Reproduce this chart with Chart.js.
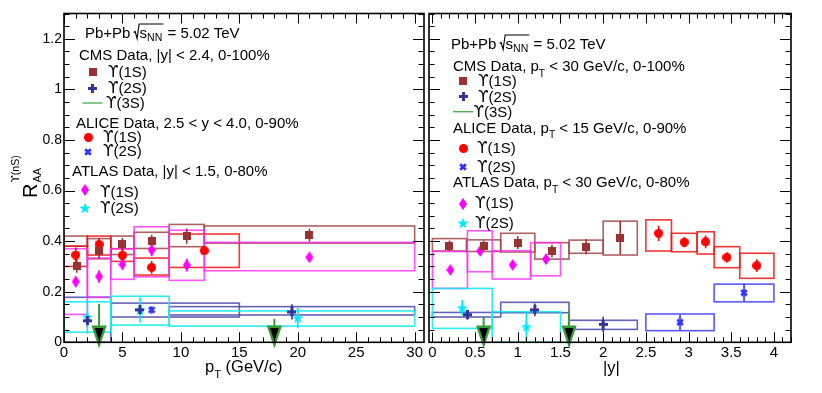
<!DOCTYPE html>
<html>
<head>
<meta charset="utf-8">
<script src="https://cdn.jsdelivr.net/npm/chart.js@4.4.0/dist/chart.umd.min.js"></script>
<style>
  body { margin: 0; background: #fff; width: 822px; height: 393px; overflow: hidden; position: relative; }
  .panel { position: absolute; top: 0; height: 393px; }
</style>
</head>
<body>
<div class="panel" style="left:0;width:430px"><canvas id="ptChart"></canvas></div>
<div class="panel" style="left:400px;width:422px"><canvas id="yChart"></canvas></div>
<script>
// ---- pT panel ----
const ptCms1sX = [1.1, 3, 5, 7.5, 10.5, 21];
const ptCms1sY = [0.30, 0.36, 0.387, 0.40, 0.42, 0.424];
const ptCms1sStat = [0.025, 0.03, 0.025, 0.025, 0.03, 0.025];
const ptCms1sBins = [[0, 2], [2, 4], [4, 6], [6, 9], [9, 12], [12, 30]];
const ptCms1sSys = [[0.38, 0.42], [0.33, 0.41], [0.347, 0.42], [0.371, 0.435], [0.378, 0.466], [0.392, 0.46]];

const ptCms2sX = [2, 6.5, 19.5];
const ptCms2sY = [0.085, 0.128, 0.12];
const ptCms2sStat = [0.025, 0.02, 0.03];
const ptCms2sBins = [[0, 4], [4, 15], [9, 30]];
const ptCms2sSys = [[0.0, 0.178], [0.10, 0.155], [0.108, 0.141]];

const ptAlice1sX = [1, 3, 5, 7.5, 12];
const ptAlice1sY = [0.345, 0.387, 0.344, 0.296, 0.362];
const ptAlice1sStat = [0.03, 0.025, 0.025, 0.025, 0.012];
const ptAlice1sBins = [[0, 2], [2, 4], [4, 6], [6, 9], [9, 15]];
const ptAlice1sSys = [[0.30, 0.38], [0.345, 0.42], [0.32, 0.37], [0.266, 0.333], [0.296, 0.428]];

const ptAlice2sX = [7.5];
const ptAlice2sY = [0.128];
const ptAlice2sStat = [0.015];

const ptAtlas1sX = [1, 3, 5, 7.5, 10.5, 21];
const ptAtlas1sY = [0.24, 0.26, 0.308, 0.365, 0.305, 0.336];
const ptAtlas1sStat = [0.02, 0.025, 0.02, 0.025, 0.025, 0.015];
const ptAtlas1sBins = [[0, 2], [2, 4], [4, 6], [6, 9], [9, 12], [12, 30]];
const ptAtlas1sSys = [[0.11, 0.37], [0.178, 0.333], [0.249, 0.37], [0.259, 0.457], [0.245, 0.443], [0.283, 0.395]];

const ptAtlas2sX = [2, 6.5, 20];
const ptAtlas2sY = [0.10, 0.128, 0.097];
const ptAtlas2sStat = [0.065, 0.05, 0.04];
const ptAtlas2sBins = [[0, 4], [4, 9], [9, 30]];
const ptAtlas2sSys = [[0.04, 0.16], [0.068, 0.182], [0.064, 0.124]];

const ptCms3sLimitX = [3, 18];
const ptCms3sLimitY = [0.152, 0.093];

// ---- |y| panel ----
const yCms1sX = [0.2, 0.6, 1.0, 1.4, 1.8, 2.2];
const yCms1sY = [0.382, 0.382, 0.394, 0.361, 0.378, 0.414];
const yCms1sStat = [0.02, 0.02, 0.025, 0.025, 0.03, 0.067];
const yCms1sBins = [[0, 0.4], [0.4, 0.8], [0.8, 1.2], [1.2, 1.6], [1.6, 2.0], [2.0, 2.4]];
const yCms1sSys = [[0.361, 0.41], [0.359, 0.405], [0.357, 0.431], [0.329, 0.394], [0.352, 0.404], [0.345, 0.479]];

const yCms2sX = [0.41, 1.2, 2.0];
const yCms2sY = [0.109, 0.128, 0.071];
const yCms2sStat = [0.02, 0.025, 0.03];
const yCms2sBins = [[0, 0.8], [0.8, 1.6], [1.6, 2.4]];
const yCms2sSys = [[0.10, 0.118], [0.117, 0.158], [0.051, 0.087]];

const yAlice1sX = [2.65, 2.95, 3.2, 3.45, 3.8];
const yAlice1sY = [0.431, 0.396, 0.397, 0.336, 0.303];
const yAlice1sStat = [0.03, 0.02, 0.025, 0.02, 0.025];
const yAlice1sBins = [[2.5, 2.8], [2.8, 3.1], [3.1, 3.3], [3.3, 3.6], [3.6, 4.0]];
const yAlice1sSys = [[0.361, 0.484], [0.358, 0.431], [0.349, 0.437], [0.295, 0.378], [0.253, 0.352]];

const yAlice2sX = [2.9, 3.65];
const yAlice2sY = [0.079, 0.196];
const yAlice2sStat = [0.03, 0.035];
const yAlice2sBins = [[2.5, 3.3], [3.3, 4.0]];
const yAlice2sSys = [[0.046, 0.112], [0.16, 0.23]];

const yAtlas1sX = [0.21, 0.56, 0.94, 1.33];
const yAtlas1sY = [0.286, 0.361, 0.306, 0.329];
const yAtlas1sStat = [0.015, 0.015, 0.015, 0.015];
const yAtlas1sBins = [[0, 0.41], [0.41, 0.7], [0.7, 1.15], [1.15, 1.5]];
const yAtlas1sSys = [[0.213, 0.359], [0.279, 0.441], [0.25, 0.362], [0.263, 0.394]];

const yAtlas2sX = [0.35, 1.1];
const yAtlas2sY = [0.137, 0.062];
const yAtlas2sStat = [0.03, 0.06];
const yAtlas2sBins = [[0, 0.7], [0.7, 1.5]];
const yAtlas2sSys = [[0.055, 0.213], [0.0, 0.121]];

const yCms3sLimitX = [0.6, 1.6];
const yCms3sLimitY = [0.10, 0.125];

const SANS = "'Liberation Sans', 'DejaVu Sans', Arial, sans-serif";
const UPSFONT = "'DejaVu Sans', sans-serif";
const GREEN = '#3a9a3a';
const UPS = '\u03D2';

function makeMarker(shape, color, w, h) {
  const c = document.createElement('canvas');
  c.width = w; c.height = h;
  const g = c.getContext('2d');
  g.fillStyle = color; g.strokeStyle = color;
  if (shape === 'square') {
    g.fillRect(0, 0, w, h);
  } else if (shape === 'circle') {
    g.beginPath(); g.arc(w / 2, h / 2, w / 2, 0, Math.PI * 2); g.fill();
  } else if (shape === 'plus') {
    g.fillRect(0, 3, w, 3); g.fillRect(3, 0, 3, h);
  } else if (shape === 'xcross') {
    g.lineWidth = 2.8;
    g.beginPath();
    g.moveTo(1.2, 1.2); g.lineTo(w - 1.2, h - 1.2);
    g.moveTo(w - 1.2, 1.2); g.lineTo(1.2, h - 1.2);
    g.stroke();
  } else if (shape === 'diamond') {
    g.beginPath();
    g.moveTo(w / 2, 0); g.lineTo(w, h / 2); g.lineTo(w / 2, h); g.lineTo(0, h / 2);
    g.closePath(); g.fill();
  } else if (shape === 'star') {
    g.beginPath();
    for (let i = 0; i < 10; i++) {
      const r = i % 2 ? w * 0.2 : w / 2;
      const a = -Math.PI / 2 + i * Math.PI / 5;
      g.lineTo(w / 2 + r * Math.cos(a), h / 2 + 0.5 + r * Math.sin(a));
    }
    g.closePath(); g.fill();
  }
  return c;
}

const MK = {
  cms1s: makeMarker('square', '#993333', 8, 8),
  cms2s: makeMarker('plus', '#333399', 9, 9),
  alice1s: makeMarker('circle', '#ff0000', 9, 9),
  alice2s: makeMarker('xcross', '#3333ff', 8, 8),
  atlas1s: makeMarker('diamond', '#ff00ff', 8, 12),
  atlas2s: makeMarker('star', '#00e8ff', 12, 12)
};

function series(x, y, stat, bins, sys, marker, color, boxColor) {
  return {
    data: x.map((v, i) => ({ x: v, y: y[i] })),
    stat: stat, bins: bins, sys: sys, barColor: color, boxColor: boxColor,
    pointStyle: marker, pointRadius: 5, showLine: false
  };
}

// rich text: supports _{sub}
function rich(ctx, str, x, y, size) {
  const parts = str.split(/(_\{[^}]*\})/);
  parts.forEach(p => {
    if (!p) return;
    if (p.startsWith('_{')) {
      const t = p.slice(2, -1);
      ctx.font = (size * 0.68) + 'px ' + SANS;
      ctx.fillText(t, x, y + size * 0.38);
      x += ctx.measureText(t).width;
    } else {
      ctx.font = size + 'px ' + SANS;
      ctx.fillText(p, x, y);
      x += ctx.measureText(p).width;
    }
  });
  return x;
}

// upsilon glyph followed by plain text
function ups(ctx, rest, x, y, size) {
  ctx.font = size + 'px ' + UPSFONT;
  ctx.fillText(UPS, x, y);
  x += ctx.measureText(UPS).width;
  ctx.font = size + 'px ' + SANS;
  ctx.fillText(rest, x, y);
}

function header(ctx, x, y) {
  ctx.fillStyle = '#000';
  ctx.font = '15px ' + SANS;
  ctx.fillText('Pb+Pb ', x, y);
  x += ctx.measureText('Pb+Pb ').width - 1;
  ctx.strokeStyle = '#000'; ctx.lineWidth = 1.1;
  const x0 = x;
  const sx = x0 + 6;
  ctx.fillText('s', sx, y);
  let ex = sx + ctx.measureText('s').width;
  ctx.font = '10.5px ' + SANS;
  ctx.fillText('NN', ex, y + 3);
  ex += ctx.measureText('NN').width + 1;
  ctx.beginPath();
  ctx.moveTo(x0, y - 5); ctx.lineTo(x0 + 1.5, y - 6);
  ctx.lineTo(x0 + 3.5, y + 1); ctx.lineTo(x0 + 5.5, y - 13.5); ctx.lineTo(ex, y - 13.5);
  ctx.stroke();
  ctx.font = '15px ' + SANS;
  ctx.fillText(' = 5.02 TeV', ex, y);
}

function entry(ctx, mk, mx, my, label, tx, ty) {
  if (mk === 'line') {
    ctx.strokeStyle = '#44aa44'; ctx.lineWidth = 1.3;
    ctx.beginPath(); ctx.moveTo(mx - 10, my); ctx.lineTo(mx + 10, my); ctx.stroke();
  } else {
    ctx.drawImage(mk, Math.round(mx - mk.width / 2), Math.round(my - mk.height / 2));
  }
  ctx.fillStyle = '#000';
  ups(ctx, label, tx, ty, 15);
}

function drawTicks(ctx, a, xs, ys, xMinor, xPer, yMinor, yPer) {
  ctx.strokeStyle = '#000'; ctx.lineWidth = 1;
  ctx.beginPath();
  const kx0 = Math.ceil(xs.min / xMinor - 1e-9), kx1 = Math.floor(xs.max / xMinor + 1e-9);
  for (let k = kx0; k <= kx1; k++) {
    const px = Math.round(xs.getPixelForValue(k * xMinor)) + 0.5;
    const len = k % xPer === 0 ? 10 : 5;
    ctx.moveTo(px, a.bottom); ctx.lineTo(px, a.bottom - len);
    ctx.moveTo(px, a.top); ctx.lineTo(px, a.top + len);
  }
  const ky0 = Math.ceil(ys.min / yMinor - 1e-9), ky1 = Math.floor(ys.max / yMinor + 1e-9);
  for (let k = ky0; k <= ky1; k++) {
    const py = Math.round(ys.getPixelForValue(k * yMinor)) + 0.5;
    const len = k % yPer === 0 ? 11 : 5.5;
    ctx.moveTo(a.left, py); ctx.lineTo(a.left + len, py);
    ctx.moveTo(a.right, py); ctx.lineTo(a.right - len, py);
  }
  ctx.stroke();
  ctx.lineWidth = 1.6;
  ctx.strokeRect(a.left, a.top, a.right - a.left, a.bottom - a.top);
}

const rootPlot = {
  id: 'rootPlot',
  beforeDatasetsDraw(chart) {
    const { ctx, chartArea: a, scales: { x, y } } = chart;
    ctx.save();
    ctx.beginPath(); ctx.rect(a.left, a.top, a.right - a.left, a.bottom - a.top); ctx.clip();
    chart.data.datasets.forEach(ds => {
      if (!ds.bins) return;
      ctx.strokeStyle = ds.boxColor; ctx.lineWidth = 1.6;
      ds.bins.forEach((b, i) => {
        const x0 = x.getPixelForValue(b[0]), x1 = x.getPixelForValue(b[1]);
        const y0 = y.getPixelForValue(ds.sys[i][1]), y1 = y.getPixelForValue(ds.sys[i][0]);
        ctx.strokeRect(x0, y0, x1 - x0, y1 - y0);
      });
    });
    chart.data.datasets.forEach(ds => {
      ctx.strokeStyle = ds.barColor; ctx.lineWidth = 1.6;
      ds.data.forEach((p, i) => {
        const px = x.getPixelForValue(p.x);
        ctx.beginPath();
        ctx.moveTo(px, y.getPixelForValue(p.y + ds.stat[i]));
        ctx.lineTo(px, y.getPixelForValue(p.y - ds.stat[i]));
        ctx.stroke();
      });
    });
    ctx.restore();
  },
  afterDatasetsDraw(chart, args, opts) {
    const { ctx, chartArea: a, scales: { x, y } } = chart;
    ctx.save();
    opts.limitX.forEach((lx, i) => {
      const px = x.getPixelForValue(lx);
      const top = y.getPixelForValue(opts.limitY[i]);
      const tip = a.bottom + 2.5, head = tip - 18;
      ctx.strokeStyle = GREEN; ctx.lineWidth = 2;
      ctx.beginPath(); ctx.moveTo(px, top); ctx.lineTo(px, head); ctx.stroke();
      ctx.beginPath();
      ctx.moveTo(px - 6, head); ctx.lineTo(px + 6, head); ctx.lineTo(px, tip); ctx.closePath();
      ctx.fillStyle = '#000'; ctx.fill();
      ctx.lineWidth = 2.4; ctx.lineJoin = 'miter'; ctx.stroke();
    });
    ctx.restore();
  },
  afterDraw(chart, args, opts) {
    const { ctx, chartArea: a, scales: { x, y } } = chart;
    ctx.save();
    drawTicks(ctx, a, x, y, opts.xMinor, opts.xPer, 0.05, 4);
    opts.decorate(ctx);
    ctx.restore();
  }
};

function panel(id, datasets, xOpts, yWidth, yLabels, padding, plotOpts) {
  return new Chart(document.getElementById(id), {
    type: 'scatter',
    data: { datasets: datasets },
    plugins: [rootPlot],
    options: {
      responsive: true, maintainAspectRatio: false, animation: false, events: [],
      layout: { padding: padding },
      plugins: { legend: { display: false }, tooltip: { enabled: false }, rootPlot: plotOpts },
      scales: {
        x: {
          type: 'linear', min: xOpts.min, max: xOpts.max,
          grid: { display: false, drawTicks: false }, border: { display: false },
          ticks: { stepSize: xOpts.step, includeBounds: false, color: '#000', padding: 2,
            maxRotation: 0, autoSkip: false, font: { family: SANS, size: 15 },
            callback: v => String(+v.toFixed(2)) },
          afterFit: s => { s.height = 50.7; }
        },
        y: {
          type: 'linear', min: 0, max: 1.3,
          grid: { display: false, drawTicks: false }, border: { display: false },
          ticks: { display: yLabels, stepSize: 0.2, includeBounds: false, color: '#000', padding: 2,
            font: { family: SANS, size: 14 }, callback: v => String(+v.toFixed(2)) },
          afterFit: s => { s.width = yWidth; }
        }
      }
    }
  });
}

panel('ptChart', [
  series(ptCms1sX, ptCms1sY, ptCms1sStat, ptCms1sBins, ptCms1sSys, MK.cms1s, '#993333', 'rgba(160,70,70,0.85)'),
  series(ptCms2sX, ptCms2sY, ptCms2sStat, ptCms2sBins, ptCms2sSys, MK.cms2s, '#333399', 'rgba(70,70,170,0.85)'),
  series(ptAlice1sX, ptAlice1sY, ptAlice1sStat, ptAlice1sBins, ptAlice1sSys, MK.alice1s, '#ff0000', 'rgba(240,20,20,0.85)'),
  series(ptAlice2sX, ptAlice2sY, ptAlice2sStat, null, null, MK.alice2s, '#3333ff', 'rgba(60,60,255,0.85)'),
  series(ptAtlas1sX, ptAtlas1sY, ptAtlas1sStat, ptAtlas1sBins, ptAtlas1sSys, MK.atlas1s, '#ff00ff', 'rgba(255,40,255,0.8)'),
  series(ptAtlas2sX, ptAtlas2sY, ptAtlas2sStat, ptAtlas2sBins, ptAtlas2sSys, MK.atlas2s, '#00e8ff', 'rgba(20,235,240,0.9)')
], { min: 0, max: 30.8, step: 5 }, 64, true, { left: 0, right: 2, top: 13.5, bottom: 0 }, {
  limitX: ptCms3sLimitX, limitY: ptCms3sLimitY, xMinor: 1, xPer: 5,
  decorate(ctx) {
    header(ctx, 85, 37.5);
    ctx.fillStyle = '#000';
    rich(ctx, 'CMS Data, |y| < 2.4, 0-100%', 79, 60, 15);
    entry(ctx, MK.cms1s, 92.5, 71.5, '(1S)', 108, 76.5);
    entry(ctx, MK.cms2s, 92.5, 88, '(2S)', 108, 92.5);
    entry(ctx, 'line', 92.5, 103, '(3S)', 106, 108);
    rich(ctx, 'ALICE Data, 2.5 < y < 4.0, 0-90%', 76, 127.5, 15);
    entry(ctx, MK.alice1s, 88, 137, '(1S)', 103, 141.5);
    entry(ctx, MK.alice2s, 88, 151.5, '(2S)', 103, 155.5);
    rich(ctx, 'ATLAS Data, |y| < 1.5, 0-80%', 72, 176, 15);
    entry(ctx, MK.atlas1s, 85, 190, '(1S)', 100, 196.5);
    entry(ctx, MK.atlas2s, 85, 208, '(2S)', 100, 212.5);
    // axis titles
    rich(ctx, 'p_{T} (GeV/c)', 205, 372, 16.5);
    ctx.save();
    ctx.translate(37, 198); ctx.rotate(-Math.PI / 2);
    ctx.font = '20px ' + SANS; ctx.fillText('R', 0, 0);
    ctx.font = '11px ' + SANS; ctx.fillText('AA', 15.5, 3.5);
    ups(ctx, '(nS)', 15.5, -18, 10.5);
    ctx.restore();
  }
});

const OFF = 400;
panel('yChart', [
  series(yCms1sX, yCms1sY, yCms1sStat, yCms1sBins, yCms1sSys, MK.cms1s, '#993333', 'rgba(160,70,70,0.85)'),
  series(yCms2sX, yCms2sY, yCms2sStat, yCms2sBins, yCms2sSys, MK.cms2s, '#333399', 'rgba(70,70,170,0.85)'),
  series(yAlice1sX, yAlice1sY, yAlice1sStat, yAlice1sBins, yAlice1sSys, MK.alice1s, '#ff0000', 'rgba(240,20,20,0.85)'),
  series(yAlice2sX, yAlice2sY, yAlice2sStat, yAlice2sBins, yAlice2sSys, MK.alice2s, '#3333ff', 'rgba(60,60,255,0.85)'),
  series(yAtlas1sX, yAtlas1sY, yAtlas1sStat, yAtlas1sBins, yAtlas1sSys, MK.atlas1s, '#ff00ff', 'rgba(255,40,255,0.8)'),
  series(yAtlas2sX, yAtlas2sY, yAtlas2sStat, yAtlas2sBins, yAtlas2sSys, MK.atlas2s, '#00e8ff', 'rgba(20,235,240,0.9)')
], { min: -0.04, max: 4.2, step: 0.5 }, 29, false, { left: 0, right: 31, top: 13.5, bottom: 0 }, {
  limitX: yCms3sLimitX, limitY: yCms3sLimitY, xMinor: 0.1, xPer: 5,
  decorate(ctx) {
    ctx.translate(-OFF, 0);
    header(ctx, 451, 48.5);
    ctx.fillStyle = '#000';
    rich(ctx, 'CMS Data, p_{T} < 30 GeV/c, 0-100%', 453, 71, 15);
    entry(ctx, MK.cms1s, 463, 81, '(1S)', 478, 86);
    entry(ctx, MK.cms2s, 463, 96.7, '(2S)', 478, 101.7);
    entry(ctx, 'line', 463, 111.7, '(3S)', 473.5, 116.7);
    rich(ctx, 'ALICE Data, p_{T} < 15 GeV/c, 0-90%', 453, 132.7, 15);
    entry(ctx, MK.alice1s, 463, 148.3, '(1S)', 477, 153.3);
    entry(ctx, MK.alice2s, 463, 166.7, '(2S)', 477, 171.7);
    rich(ctx, 'ATLAS Data, p_{T} < 30 GeV/c, 0-80%', 453, 187.3, 15);
    entry(ctx, MK.atlas1s, 463, 204, '(1S)', 475, 208.3);
    entry(ctx, MK.atlas2s, 463, 223.3, '(2S)', 475, 228.3);
    ctx.font = '16.5px ' + SANS;
    ctx.fillText('|y|', 603, 373);
  }
});
</script>
</body>
</html>
